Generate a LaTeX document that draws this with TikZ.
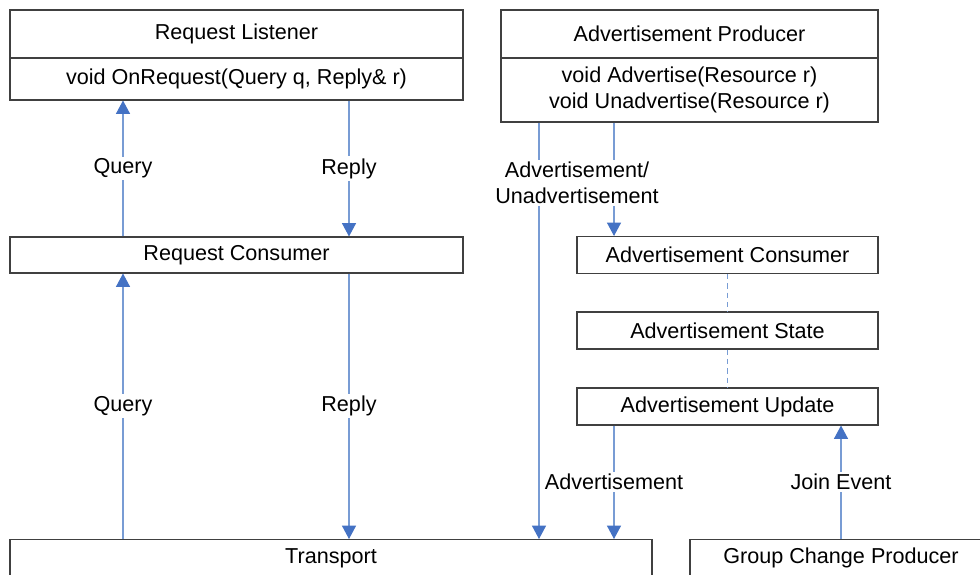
\documentclass[tikz,border=0pt]{standalone}
\usepackage{fontspec}
\setmainfont{Liberation Sans}
\usetikzlibrary{arrows.meta}
\definecolor{linkblue}{RGB}{120,156,212}
\definecolor{tipblue}{RGB}{68,114,196}
\definecolor{boxgray}{RGB}{64,64,64}
\tikzset{
  box/.style={draw=boxgray, line width=0.8pt, fill=white, inner sep=0pt, align=center,
    font=\fontsize{16.2}{19.5}\selectfont},
  openbox/.style={box, anchor=north, text height=18.3pt, text depth=20pt},
  lab/.style={fill=white, inner sep=1.5pt, align=center, font=\fontsize{16.2}{19.5}\selectfont},
  link/.style={draw=linkblue, line width=0.8pt},
  arr/.style={link, -{Triangle[width=10.5pt,length=10pt,color=tipblue]}},
  dashlink/.style={link, line width=0.9pt, dash pattern=on 4pt off 3pt},
}
\begin{document}
\begin{tikzpicture}[x=0.75pt,y=-0.75pt]
\useasboundingbox (0,0) rectangle (980,574);
\clip (0,0) rectangle (980,574);
\fill[white] (0,0) rectangle (980,574);
% boxes
\node[box, minimum width=339.75pt, minimum height=36pt] (RLt) at (236.5,34) {Request Listener};
\node[box, minimum width=339.75pt, minimum height=31.5pt] (RLb) at (236.5,79) {void OnRequest(Query q, Reply\& r)};
\node[box, minimum width=282.75pt, minimum height=36pt] (APt) at (689.5,34) {Advertisement Producer};
\node[box, minimum width=282.75pt, minimum height=48pt] (APb) at (689.5,90) {void Advertise(Resource r)\\void Unadvertise(Resource r)};
\node[box, minimum width=339.75pt, minimum height=27pt] (RC) at (236.5,255) {Request Consumer};
\node[box, minimum width=225.75pt, minimum height=27.75pt] (AC) at (727.5,255) {Advertisement Consumer};
\node[box, minimum width=225.75pt, minimum height=27.75pt] (AS) at (727.5,330.5) {Advertisement State};
\node[box, minimum width=225.75pt, minimum height=27.75pt] (AU) at (727.5,406.5) {Advertisement Update};
\node[openbox, minimum width=481.5pt] (TR) at (331,539) {Transport};
\node[openbox, minimum width=226.5pt] (GCP) at (841,539) {Group Change Producer};
% x positions of connectors
\coordinate (xq) at (123,0);
\coordinate (xr) at (349,0);
\coordinate (xa) at (539,0);
\coordinate (xb) at (614,0);
\coordinate (xd) at (727.5,0);
\coordinate (xj) at (841,0);
% connectors
\draw[arr] (RC.north -| xq) -- node[lab] {Query} (RLb.south -| xq);
\draw[arr] (RLb.south -| xr) -- node[lab] {Reply} (RC.north -| xr);
\draw[arr] (TR.north -| xq) -- node[lab] {Query} (RC.south -| xq);
\draw[arr] (RC.south -| xr) -- node[lab] {Reply} (TR.north -| xr);
\draw[arr] (APb.south -| xa) -- (TR.north -| xa);
\draw[arr] (APb.south -| xb) -- (AC.north -| xb);
\node[lab] (adlab) at (577,183) {Advertisement/\\Unadvertisement};
\draw[dashlink] (AC.south -| xd) -- (AS.north -| xd);
\draw[dashlink] (AS.south -| xd) -- (AU.north -| xd);
\draw[arr] (AU.south -| xb) -- node[lab] {Advertisement} (TR.north -| xb);
\draw[arr] (GCP.north -| xj) -- node[lab] {Join Event} (AU.south -| xj);
\end{tikzpicture}
\end{document}
